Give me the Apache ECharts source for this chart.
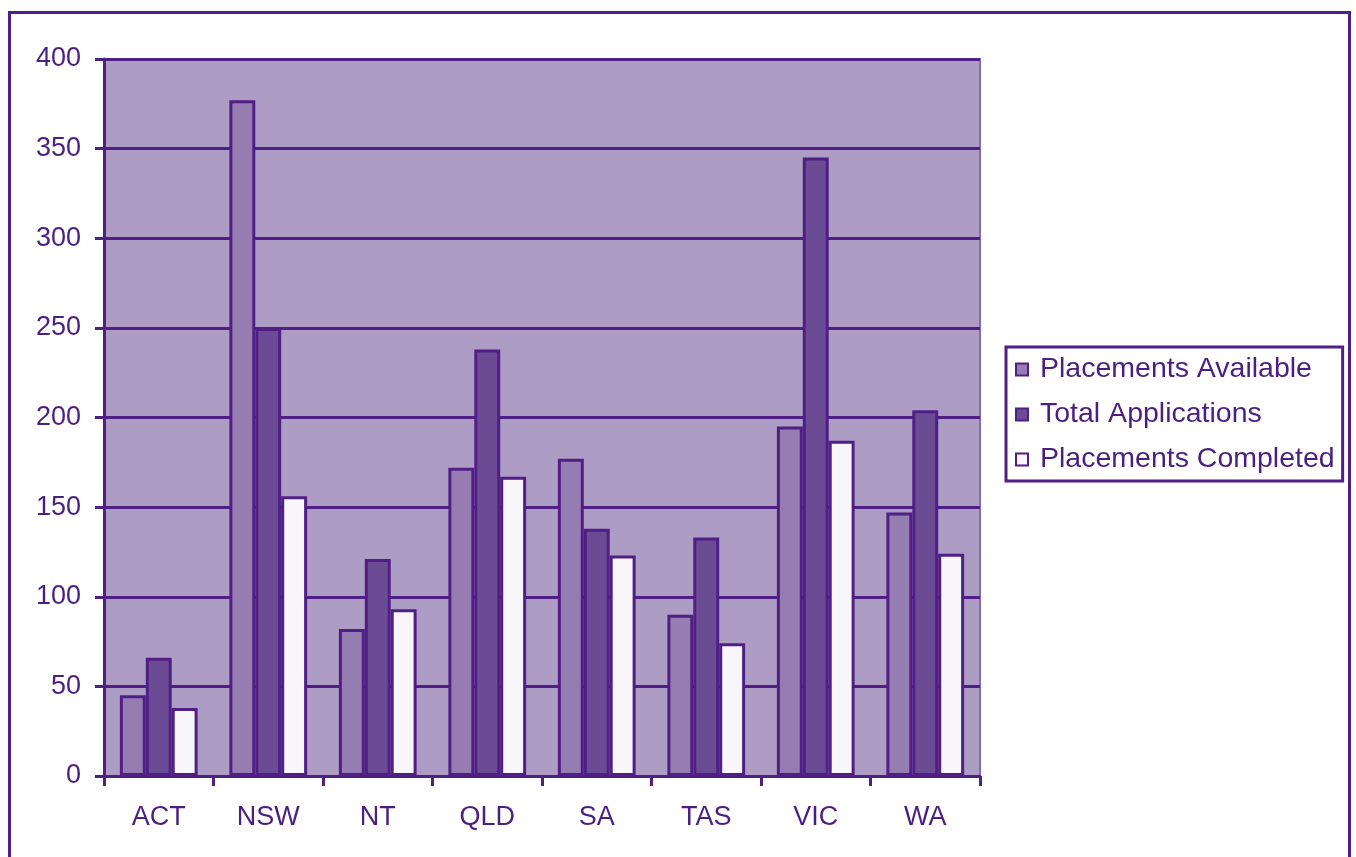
<!DOCTYPE html>
<html><head><meta charset="utf-8">
<script src="https://cdn.jsdelivr.net/npm/echarts@6/dist/echarts.min.js"></script>
<style>html,body{margin:0;padding:0;background:#fff}#c{width:1356px;height:857px}</style>
</head><body><div id="c"></div>
<script>
const categories = ['ACT','NSW','NT','QLD','SA','TAS','VIC','WA'];
const placementsAvailable = [45, 377, 82, 172, 177, 90, 195, 147];
const totalApplications = [66, 250, 121, 238, 138, 133, 345, 204];
const placementsCompleted = [38, 156, 93, 167, 123, 74, 187, 124];
const seriesNames = ['Placements Available','Total Applications','Placements Completed'];
const yTicks = {min:0, max:400, interval:50};

const dark = '#4F1F86';
const textColor = '#4B1E82';
const font = 'Liberation Sans, Arial, sans-serif';
const chart = echarts.init(document.getElementById('c'));
function bar(name, data, color){
  return {name, type:'bar', data, barGap:'0%', barCategoryGap:'29%',
    itemStyle:{color, borderColor:dark, borderWidth:3}};
}
chart.setOption({
  animation:false,
  graphic:[{type:'rect', shape:{x:9.5,y:12.5,width:1340,height:900},
    style:{fill:'none', stroke:dark, lineWidth:3}, z:-1}],
  grid:{left:104, top:59, width:876, height:717, show:true,
    backgroundColor:'#AD9DC4', borderColor:'#8868AE', borderWidth:2},
  legend:{orient:'vertical', left:1006, top:347, width:336,
    padding:[8,8,7,9], borderColor:dark, borderWidth:3,
    itemWidth:12, itemHeight:12, itemGap:16, icon:'rect',
    textStyle:{color:textColor, fontSize:28.5, fontFamily:font, padding:[0,0,0,7]},
    data:seriesNames},
  xAxis:{type:'category', data:categories,
    axisLine:{lineStyle:{color:dark, width:3}},
    axisTick:{show:true, length:10, lineStyle:{color:dark, width:3}},
    axisLabel:{color:textColor, fontSize:27, fontFamily:font, margin:28}},
  yAxis:{type:'value', min:yTicks.min, max:yTicks.max, interval:yTicks.interval,
    axisLine:{show:true, lineStyle:{color:dark, width:3}},
    axisTick:{show:true, length:9, lineStyle:{color:dark, width:3}},
    splitLine:{lineStyle:{color:dark, width:3}},
    axisLabel:{color:textColor, fontSize:27, fontFamily:font, margin:23}},
  series:[
    bar(seriesNames[0], placementsAvailable, '#957DB1'),
    bar(seriesNames[1], totalApplications, '#6B4C94'),
    bar(seriesNames[2], placementsCompleted, '#F8F6FA')
  ]
});
</script></body></html>
